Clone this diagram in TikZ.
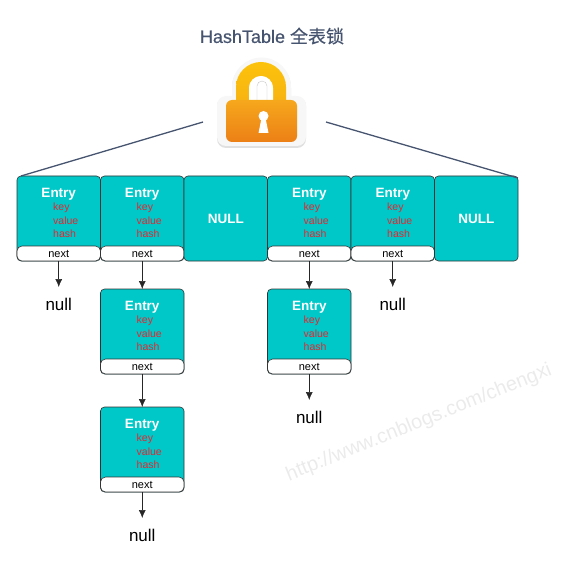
\documentclass[tikz,border=0pt]{standalone}
\usepackage{fontspec}
\setmainfont{Liberation Sans}
\newfontfamily\titlefont[FakeBold=0.5]{Liberation Sans}
\newfontfamily\cjkfont[FakeBold=0.5]{Noto Sans CJK SC}
\usepackage{xcolor}
\usetikzlibrary{positioning, arrows.meta}
\definecolor{cellteal}{HTML}{00C8C8}
\definecolor{titleblue}{HTML}{46546F}
\definecolor{fieldred}{HTML}{E5262F}
\definecolor{shackletop}{HTML}{FCC20A}
\definecolor{shacklelow}{HTML}{F8B412}
\definecolor{bodytop}{HTML}{F6A81C}
\definecolor{bodylow}{HTML}{EC7F16}
\tikzset{
  cellbox/.style={rectangle, draw=black!80, rounded corners=4pt, fill=cellteal, outer sep=0pt,
                  minimum width=83.5pt, minimum height=85pt, inner sep=0pt, semithick},
  nextbox/.style={rectangle, draw=black!80, rounded corners=5pt, fill=white, outer sep=0pt,
                  minimum width=83.5pt, minimum height=15pt, inner sep=0pt, semithick,
                  font=\fontsize{11}{11}\selectfont},
  head/.style={text=white, inner sep=0pt, font=\bfseries\fontsize{13.5}{13.5}\selectfont},
  field/.style={text=fieldred, anchor=west, inner sep=0pt, font=\fontsize{10.5}{10.5}\selectfont},
  nullend/.style={inner sep=0pt, outer sep=0pt, minimum height=34pt, font=\fontsize{17}{17}\selectfont},
  arr/.style={-{Latex[length=8pt, width=7pt]}, black!85, semithick},
  spoke/.style={draw=titleblue, line width=1.3pt},
}
% one entry block with its next field
\newcommand{\entrycell}[2]{
  \node[cellbox, #2] (#1) {};
  \node[head] (#1h) at ([yshift=-18.5pt]#1.north) {Entry};
  \node[field] (#1k) at ([xshift=36pt, yshift=-32pt]#1.north west) {key};
  \node[field] (#1v) at ([xshift=36pt, yshift=-45pt]#1.north west) {value};
  \node[field] (#1s) at ([xshift=36pt, yshift=-58pt]#1.north west) {hash};
  \node[nextbox, above=0pt of #1.south, anchor=south] (#1n) {next};
}
\begin{document}
\begin{tikzpicture}[x=1pt, y=-1pt]
  \useasboundingbox (0,0) rectangle (572,561);
  \node[text=titleblue, inner sep=0pt, font=\fontsize{18}{18}\selectfont] (title) at (272,36) {\titlefont HashTable {\cjkfont 全表锁}};

  % lock
  \fill[black!12] (232,88) arc (-180:0:29.5) -- (291,97) -- (297,97) arc (-90:0:9) -- (306,139) arc (0:90:9) -- (226,148) arc (90:180:9) -- (217,106) arc (180:270:9) -- (232,97) -- cycle;
  \fill[black!3] (232,87) arc (-180:0:29.5) -- (291,96) -- (297,96) arc (-90:0:9) -- (306,137) arc (0:90:9) -- (226,146) arc (90:180:9) -- (217,105) arc (180:270:9) -- (232,96) -- cycle;
  \shade[top color=shackletop, bottom color=shacklelow] (236,101) -- (236,87) arc (-180:0:25) -- (286,101) -- (273,101) -- (273,88) arc (0:-180:12) -- (249,101) -- cycle;
  \fill[white] (249,100) -- (249,88) arc (-180:0:12) -- (273,100) -- cycle;
  \draw[black!22, fill=white] (257,100) -- (257,86) arc (-180:0:5) -- (267,100);
  \shade[top color=bodytop, bottom color=bodylow, rounded corners=6pt] (226,100) rectangle (297,142);
  \fill[white] (263.5,116) circle (5);
  \fill[white] (261.5,118) -- (258.5,133) -- (268.5,133) -- (265.5,118) -- cycle;
  \coordinate (lockl) at (203,122);
  \coordinate (lockr) at (326,122);

  % table row
  \entrycell{e1}{at={(58.75,218.5)}}
  \entrycell{e2}{right=0pt of e1}
  \node[cellbox, right=0pt of e2] (n3) {};
  \node[head] (n3t) at (n3) {NULL};
  \entrycell{e4}{right=0pt of n3}
  \entrycell{e5}{right=0pt of e4}
  \node[cellbox, right=0pt of e5] (n6) {};
  \node[head] (n6t) at (n6) {NULL};

  % chains
  \entrycell{e7}{below=28pt of e2}
  \entrycell{e8}{below=33pt of e7}
  \entrycell{e9}{below=28pt of e4}
  \node[nullend, below=26pt of e1n] (z1) {null};
  \node[nullend, below=26pt of e8n] (z2) {null};
  \node[nullend, below=26pt of e9n] (z4) {null};
  \node[nullend, below=26pt of e5n] (z5) {null};

  \draw[arr] (e1n) -- (z1);
  \draw[arr] (e2n) -- (e7);
  \draw[arr] (e7n) -- (e8);
  \draw[arr] (e8n) -- (z2);
  \draw[arr] (e4n) -- (e9);
  \draw[arr] (e9n) -- (z4);
  \draw[arr] (e5n) -- (z5);
  \draw[spoke] (lockl) -- ([xshift=4pt]e1.north west);
  \draw[spoke] (lockr) -- ([yshift=-2pt]n6.north east);

  \node[text=black!8, rotate=22, inner sep=0pt, font=\fontsize{20}{20}\selectfont] (mark) at (419,423) {http://www.cnblogs.com/chengxi};
\end{tikzpicture}
\end{document}
